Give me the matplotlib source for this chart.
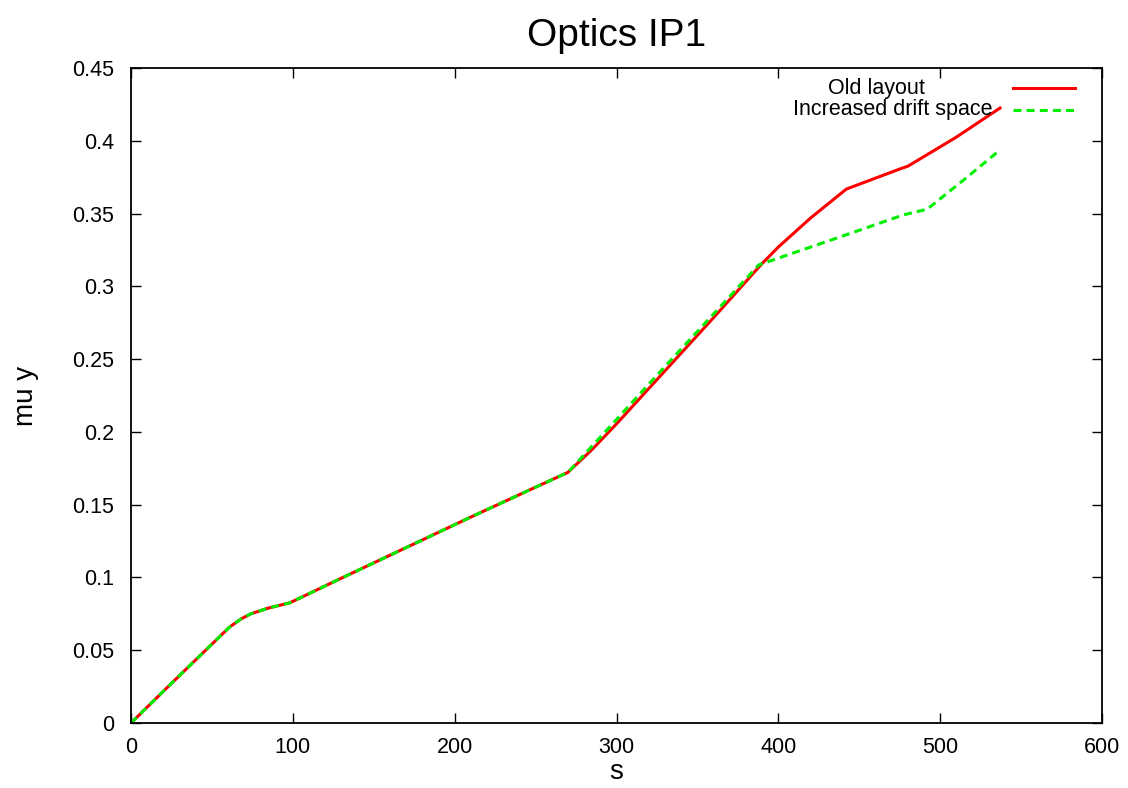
import matplotlib
matplotlib.use("Agg")
import matplotlib.pyplot as plt
from matplotlib.lines import Line2D

plt.rcParams['font.family'] = ['Liberation Sans', 'DejaVu Sans']

# Old layout
s_old = [0, 20, 40, 61, 68, 74, 85, 98, 130, 170, 210, 250, 270, 285, 300, 330, 360, 389, 400, 420, 442, 476, 480, 510, 537]
mu_old = [0.0, 0.0218, 0.0434, 0.0660, 0.0715, 0.0750, 0.0790, 0.0825, 0.0995, 0.1205, 0.1415, 0.1620, 0.1722, 0.1880, 0.2055, 0.2420, 0.2785, 0.3145, 0.3270, 0.3470, 0.3668, 0.3810, 0.3825, 0.4025, 0.4225]

# Increased drift space
s_new = [0, 20, 40, 61, 68, 74, 85, 98, 130, 170, 210, 250, 270, 300, 330, 360, 388, 420, 450, 477, 492, 515, 537]
mu_new = [0.0, 0.0218, 0.0434, 0.0660, 0.0715, 0.0750, 0.0790, 0.0825, 0.0995, 0.1205, 0.1415, 0.1620, 0.1722, 0.2085, 0.2450, 0.2810, 0.3148, 0.3270, 0.3385, 0.3490, 0.3530, 0.3735, 0.3937]

series_labels = ["Old layout", "Increased drift space"]
x_ticks = [0, 100, 200, 300, 400, 500, 600]
y_ticks = [0, 0.05, 0.1, 0.15, 0.2, 0.25, 0.3, 0.35, 0.4, 0.45]
y_tick_labels = ["0", "0.05", "0.1", "0.15", "0.2", "0.25", "0.3", "0.35", "0.4", "0.45"]

fig = plt.figure(figsize=(11.28, 7.88), dpi=100)
ax = fig.add_axes([131/1128, 65/788, 971/1128, 655/788])

red = '#ff0000'
green = '#00ee00'
ax.plot(s_old, mu_old, color=red, lw=2.2, solid_joinstyle='miter')
ax.plot(s_new, mu_new, color=green, lw=2.2, dashes=(2.6, 1.7))

ax.set_xlim(0, 600)
ax.set_ylim(0, 0.45)
ax.set_xticks(x_ticks)
ax.set_xticklabels([str(t) for t in x_ticks])
ax.set_yticks(y_ticks)
ax.set_yticklabels(y_tick_labels)
ax.tick_params(direction='in', length=7, width=1, top=True, right=True,
               labelsize=15.5, colors='black')
ax.tick_params(axis='x', pad=10)
ax.tick_params(axis='y', pad=12)
for sp in ax.spines.values():
    sp.set_linewidth(1.3)

ax.set_title("Optics IP1", fontsize=28, pad=16)
ax.set_xlabel("s", fontsize=20, labelpad=1)
ax.set_ylabel("mu y", fontsize=20, labelpad=24)

# key (legend) drawn gnuplot-style: text then sample to the right
key_y = [0.969, 0.936]
text_right = [0.818, 0.887]
styles = [dict(color=red, lw=2.2), dict(color=green, lw=2.2, dashes=(2.6, 1.7))]
for lab, yy, xr, st in zip(series_labels, key_y, text_right, styles):
    ax.text(xr, yy, lab, transform=ax.transAxes, ha='right', va='center', fontsize=15.5)
    ax.add_line(Line2D([0.908, 0.972], [yy, yy], transform=ax.transAxes, **st))

fig.savefig("out.png", dpi=100)
